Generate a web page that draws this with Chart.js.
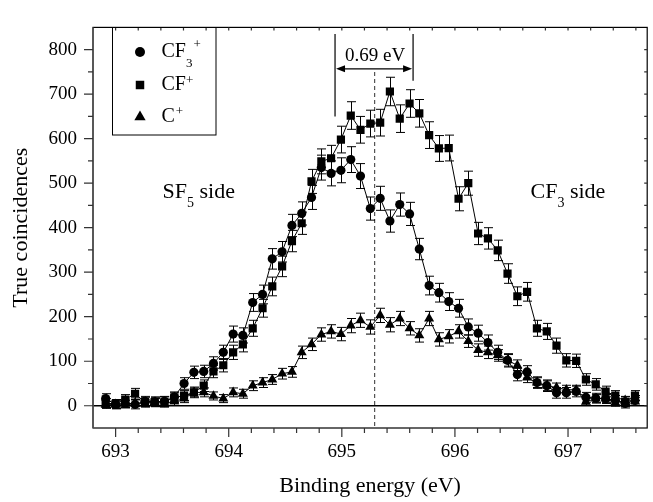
<!DOCTYPE html>
<html>
<head>
<meta charset="utf-8">
<script src="https://cdn.jsdelivr.net/npm/chart.js@4/dist/chart.umd.min.js"></script>
<style>
  html, body { margin: 0; padding: 0; background: #fff; }
  canvas { display: block; }
</style>
</head>
<body>
<canvas id="chart" width="653" height="502"></canvas>
<script>
// Binding energy of each channel (eV)
const energy = [692.912, 692.999, 693.085, 693.172, 693.259, 693.345, 693.432, 693.519, 693.605, 693.692,
  693.779, 693.865, 693.952, 694.039, 694.125, 694.212, 694.299, 694.385, 694.472, 694.559,
  694.645, 694.732, 694.819, 694.905, 694.992, 695.079, 695.165, 695.252, 695.339, 695.425,
  695.512, 695.599, 695.685, 695.772, 695.858, 695.945, 696.032, 696.118, 696.205, 696.292,
  696.378, 696.465, 696.552, 696.638, 696.725, 696.812, 696.898, 696.985, 697.072, 697.158,
  697.245, 697.332, 697.418, 697.505, 697.592];

// CF3+ (circles)
const cf3 = [16, 3, 5, 3, 10, 9, 10, 20, 50, 75, 77, 95, 120, 161, 158, 232, 250, 330, 346, 405,
  432, 468, 535, 522, 529, 553, 516, 443, 466, 415, 452, 431, 352, 270, 254, 234, 219, 177, 163, 142,
  120, 102, 70, 76, 52, 45, 29, 29, 32, 19, 17, 16, 12, 5, 12];
const cf3Err = [11, 10, 10, 10, 11, 11, 11, 11, 13, 14, 14, 15, 16, 18, 17, 20, 21, 23, 23, 25,
  26, 27, 28, 28, 28, 29, 28, 26, 27, 25, 26, 26, 24, 21, 21, 20, 20, 18, 18, 17,
  16, 15, 14, 14, 13, 13, 12, 12, 12, 11, 11, 11, 11, 10, 11];

// CF+ (squares)
const cf = [6, 4, 14, 27, 8, 8, 9, 18, 23, 30, 45, 77, 91, 120, 138, 174, 219, 268, 313, 370,
  410, 504, 549, 556, 598, 652, 620, 634, 636, 706, 645, 679, 657, 608, 578, 579, 465, 500, 387, 376,
  349, 297, 246, 256, 174, 167, 135, 102, 101, 59, 48, 32, 23, 9, 23];
const cfErr = [10, 10, 11, 12, 10, 10, 11, 11, 11, 12, 13, 14, 15, 16, 17, 18, 20, 21, 23, 24,
  25, 27, 28, 29, 30, 31, 30, 30, 30, 32, 31, 31, 31, 30, 29, 29, 27, 27, 25, 24,
  23, 22, 21, 21, 18, 18, 17, 15, 15, 13, 13, 12, 11, 11, 11];

// C+ (triangles)
const cPlus = [2, 3, 4, 6, 5, 8, 5, 10, 16, 30, 30, 22, 16, 30, 27, 45, 52, 59, 72, 76,
  120, 138, 160, 167, 161, 180, 192, 177, 203, 182, 196, 174, 158, 196, 149, 156, 167, 145, 125, 120,
  113, 102, 91, 63, 52, 45, 41, 36, 36, 9, 16, 16, 7, 12, 10];
const cPlusErr = [8, 8, 8, 8, 8, 8, 8, 9, 9, 10, 10, 9, 9, 10, 10, 11, 11, 11, 12, 12,
  14, 14, 15, 15, 15, 16, 16, 16, 16, 16, 16, 15, 15, 16, 15, 15, 15, 14, 14, 14,
  13, 13, 12, 11, 11, 11, 10, 10, 10, 8, 9, 9, 8, 9, 9];

const xTicks = [693, 694, 695, 696, 697];
const yTicks = [0, 100, 200, 300, 400, 500, 600, 700, 800];

const serif = '"Liberation Serif", "Times New Roman", serif';

function points(values) {
  return energy.map((e, i) => ({ x: e, y: values[i] }));
}

// text with sub/superscripts, drawn piece by piece
function drawParts(ctx, x, y, parts) {
  ctx.textAlign = 'left';
  ctx.textBaseline = 'alphabetic';
  ctx.fillStyle = '#000';
  parts.forEach(p => {
    ctx.font = p.size + 'px ' + serif;
    x += p.dx || 0;
    ctx.fillText(p.text, x, y + (p.dy || 0));
    x += ctx.measureText(p.text).width;
  });
}

function drawSymbol(ctx, style, r, x, y) {
  ctx.beginPath();
  if (style === 'circle') {
    ctx.arc(x, y, r, 0, Math.PI * 2);
  } else if (style === 'rect') {
    const s = Math.SQRT1_2 * r;
    ctx.rect(x - s, y - s, 2 * s, 2 * s);
  } else {
    ctx.moveTo(x, y - r);
    ctx.lineTo(x + r * Math.sin(Math.PI * 2 / 3), y - r * Math.cos(Math.PI * 2 / 3));
    ctx.lineTo(x + r * Math.sin(Math.PI * 4 / 3), y - r * Math.cos(Math.PI * 4 / 3));
    ctx.closePath();
  }
  ctx.fillStyle = '#000';
  ctx.fill();
}

// zero line, dashed centre line and error bars, under the points
const underlay = {
  id: 'underlay',
  beforeDatasetsDraw(chart) {
    const { ctx, chartArea: a, scales: { x, y } } = chart;
    ctx.save();
    ctx.beginPath();
    ctx.rect(a.left, a.top, a.right - a.left, a.bottom - a.top);
    ctx.clip();

    ctx.strokeStyle = '#000';
    ctx.lineWidth = 1.3;
    ctx.beginPath();
    ctx.moveTo(a.left, y.getPixelForValue(0));
    ctx.lineTo(a.right, y.getPixelForValue(0));
    ctx.stroke();

    ctx.strokeStyle = '#555';
    ctx.lineWidth = 1.2;
    ctx.setLineDash([4, 3]);
    ctx.beginPath();
    ctx.moveTo(x.getPixelForValue(695.29), y.getPixelForValue(750));
    ctx.lineTo(x.getPixelForValue(695.29), a.bottom);
    ctx.stroke();
    ctx.setLineDash([]);

    ctx.strokeStyle = '#000';
    ctx.lineWidth = 1;
    chart.data.datasets.forEach(ds => {
      ds.data.forEach((p, i) => {
        const px = Math.round(x.getPixelForValue(p.x)) + 0.5;
        const top = y.getPixelForValue(p.y + ds.errors[i]);
        const bot = y.getPixelForValue(p.y - ds.errors[i]);
        ctx.beginPath();
        ctx.moveTo(px, top); ctx.lineTo(px, bot);
        ctx.moveTo(px - 4.5, top); ctx.lineTo(px + 4.5, top);
        ctx.moveTo(px - 4.5, bot); ctx.lineTo(px + 4.5, bot);
        ctx.stroke();
      });
    });
    ctx.restore();
  }
};

// frame, tick marks, legend and labels
const overlay = {
  id: 'overlay',
  afterDraw(chart) {
    const { ctx, chartArea: a, scales: { x, y } } = chart;
    ctx.save();

    // frame
    ctx.strokeStyle = '#000';
    ctx.lineWidth = 1.2;
    ctx.strokeRect(a.left, a.top, a.right - a.left, a.bottom - a.top);
    ctx.strokeStyle = '#555';
    ctx.lineWidth = 1.6;
    ctx.beginPath();
    ctx.moveTo(a.left, a.top); ctx.lineTo(a.left, a.bottom);
    ctx.stroke();

    // tick marks: major + minor, outward on left/bottom, short inward on top/right
    ctx.lineWidth = 1.2;
    ctx.strokeStyle = '#333';
    ctx.beginPath();
    for (let v = 692.8; v <= 697.71; v += 0.2) {
      const px = x.getPixelForValue(v);
      if (px < a.left + 1 || px > a.right - 1) continue;
      const major = xTicks.some(t => Math.abs(t - v) < 1e-6);
      ctx.moveTo(px, a.bottom); ctx.lineTo(px, a.bottom + (major ? 9 : 5));
      ctx.moveTo(px, a.top); ctx.lineTo(px, a.top + 3);
    }
    for (let v = -50; v <= 850; v += 50) {
      const py = y.getPixelForValue(v);
      if (py < a.top + 1 || py > a.bottom - 1) continue;
      const major = yTicks.includes(v);
      ctx.moveTo(a.left, py); ctx.lineTo(a.left - (major ? 9 : 5), py);
      ctx.moveTo(a.right, py); ctx.lineTo(a.right - 3, py);
    }
    ctx.stroke();

    // 0.69 eV width marker
    const xl = x.getPixelForValue(694.94);
    const xr = x.getPixelForValue(695.63);
    const ya = y.getPixelForValue(757);
    ctx.strokeStyle = '#000';
    ctx.lineWidth = 1.2;
    ctx.beginPath();
    ctx.moveTo(xl, y.getPixelForValue(835)); ctx.lineTo(xl, y.getPixelForValue(650));
    ctx.moveTo(xr, y.getPixelForValue(835)); ctx.lineTo(xr, y.getPixelForValue(730));
    ctx.moveTo(xl + 6, ya); ctx.lineTo(xr - 6, ya);
    ctx.stroke();
    ctx.fillStyle = '#000';
    ctx.beginPath();
    ctx.moveTo(xl + 1, ya); ctx.lineTo(xl + 10, ya - 3.5); ctx.lineTo(xl + 10, ya + 3.5); ctx.closePath();
    ctx.moveTo(xr - 1, ya); ctx.lineTo(xr - 10, ya - 3.5); ctx.lineTo(xr - 10, ya + 3.5); ctx.closePath();
    ctx.fill();
    ctx.font = '19px ' + serif;
    ctx.textAlign = 'center';
    ctx.textBaseline = 'alphabetic';
    ctx.fillText('0.69 eV', (xl + xr) / 2 + 1, ya - 8);

    // side labels
    drawParts(ctx, 162.5, 198, [
      { text: 'SF', size: 22 }, { text: '5', size: 14, dy: 9 }, { text: ' side', size: 22 }]);
    drawParts(ctx, 530.5, 198, [
      { text: 'CF', size: 22 }, { text: '3', size: 14, dy: 9 }, { text: ' side', size: 22 }]);

    // legend
    ctx.strokeStyle = '#000';
    ctx.lineWidth = 1;
    ctx.strokeRect(112.5, 27.5, 103.5, 107.5);
    drawSymbol(ctx, 'circle', 5, 140, 52);
    drawSymbol(ctx, 'rect', 6, 140, 85);
    drawSymbol(ctx, 'triangle', 6.5, 140, 117);
    drawParts(ctx, 161.5, 56.5, [
      { text: 'CF', size: 20 }, { text: '3', size: 13, dy: 10 }, { text: '+', size: 13, dy: -9, dx: 1 }]);
    drawParts(ctx, 161.5, 90, [
      { text: 'CF', size: 20 }, { text: '+', size: 13, dy: -6 }]);
    drawParts(ctx, 161.5, 121.5, [
      { text: 'C', size: 20 }, { text: '+', size: 13, dy: -7, dx: 1 }]);

    ctx.restore();
  }
};

const series = [
  { values: cf3, errors: cf3Err, style: 'circle', r: 4.6 },
  { values: cf, errors: cfErr, style: 'rect', r: 5.8 },
  { values: cPlus, errors: cPlusErr, style: 'triangle', r: 5.8 }
];

new Chart(document.getElementById('chart'), {
  type: 'scatter',
  data: {
    datasets: series.map(s => ({
      data: points(s.values),
      errors: s.errors,
      showLine: true,
      borderColor: '#000',
      borderWidth: 1,
      pointStyle: s.style,
      pointRadius: s.r,
      pointBackgroundColor: '#000',
      pointBorderWidth: 0,
      tension: 0
    }))
  },
  options: {
    responsive: false,
    animation: false,
    events: [],
    layout: { padding: { top: 12, right: 1, left: 0, bottom: 0 } },
    plugins: { legend: { display: false }, tooltip: { enabled: false } },
    scales: {
      x: {
        type: 'linear',
        min: 692.8,
        max: 697.7,
        afterBuildTicks: s => { s.ticks = xTicks.map(v => ({ value: v })); },
        afterFit: s => { s.height = 74; },
        grid: { display: false, drawTicks: false },
        border: { display: false },
        ticks: { color: '#000', padding: 13, maxRotation: 0, autoSkip: false, font: { family: serif, size: 19 } },
        title: { display: true, text: 'Binding energy (eV)', color: '#000', padding: { top: 0, bottom: 3 }, font: { family: serif, size: 22 } }
      },
      y: {
        min: -50,
        max: 850,
        afterBuildTicks: s => { s.ticks = yTicks.map(v => ({ value: v })); },
        afterFit: s => { s.width = 93; },
        grid: { display: false, drawTicks: false },
        border: { display: false },
        ticks: { color: '#000', padding: 16, font: { family: serif, size: 19 } },
        title: { display: true, text: 'True coincidences', color: '#000', padding: { top: 8, bottom: 0 }, font: { family: serif, size: 22 } }
      }
    }
  },
  plugins: [underlay, overlay]
});
</script>
</body>
</html>
